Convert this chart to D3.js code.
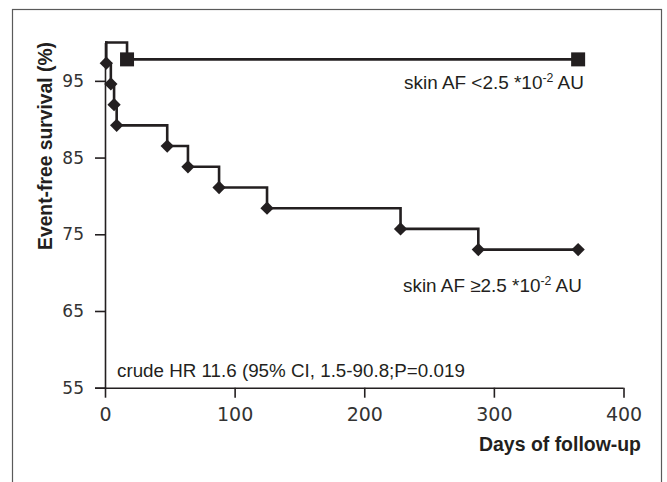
<!DOCTYPE html>
<html>
<head>
<meta charset="utf-8">
<script src="https://cdn.jsdelivr.net/npm/d3@7"></script>
<style>
  body { margin: 0; background: #fff; }
  svg { display: block; }
</style>
</head>
<body>
<script>
let W = 667;
let H = 482;

// low skin AF group (squares)
let lowDays = [0, 17, 365];
let lowSurv = [100, 97.8, 97.8];
// high skin AF group (diamonds)
let highDays = [0, 1, 4.5, 7, 9, 48, 64, 88, 125, 228, 288, 365];
let highSurv = [100, 97.3, 94.6, 91.9, 89.2, 86.5, 83.8, 81.1, 78.4, 75.7, 73.0, 73.0];

let xTicks = [0, 100, 200, 300, 400];
let yTicks = [55, 65, 75, 85, 95];

let ink = "#231f20";
let tickFont = "'DejaVu Sans', sans-serif";
let textFont = "'Liberation Sans', Arial, sans-serif";

let svg = d3.select("body")
  .append("svg")
  .attr("width", W)
  .attr("height", H);

// frame (open at the bottom, as in the cropped figure)
svg.append("rect")
  .attr("x", 12.5)
  .attr("y", 9.5)
  .attr("width", 649)
  .attr("height", 520)
  .attr("fill", "none")
  .attr("stroke", "#5a5a5a")
  .attr("stroke-width", 1.2);

let xScale = d3.scaleLinear().domain([0, 400]).range([105, 623.5]);
let yScale = d3.scaleLinear().domain([55, 100]).range([387.7, 42.5]);

// shrink/grow a text so it spans a given width
let fit = (sel, w) => {
  let l = sel.node().getComputedTextLength();
  let fs = parseFloat(sel.attr("font-size"));
  sel.attr("font-size", fs * w / l);
};

let xAxis = svg.append("g")
  .attr("transform", "translate(0," + yScale(55) + ")")
  .call(d3.axisBottom(xScale).tickValues(xTicks).tickSize(10).tickSizeOuter(0).tickPadding(10));
let yAxis = svg.append("g")
  .attr("transform", "translate(" + xScale(0) + ",0)")
  .call(d3.axisLeft(yScale).tickValues(yTicks).tickSize(10).tickSizeOuter(0).tickPadding(11));

xAxis.select(".domain").attr("d", "M" + (xScale(0) - 10) + ",0.5H" + xScale(400));
[xAxis, yAxis].forEach(a => {
  a.selectAll("path, line").attr("stroke", ink).attr("stroke-width", 1.6);
  a.selectAll("text").attr("fill", "#333").attr("font-family", tickFont);
});
xAxis.selectAll("text").attr("font-size", 19);
yAxis.selectAll("text").attr("font-size", 17);

let line = d3.line()
  .x(d => xScale(d[0]))
  .y(d => yScale(d[1]))
  .curve(d3.curveStepAfter);

let lowPts = lowDays.map((d, i) => [d, lowSurv[i]]);
let highPts = highDays.map((d, i) => [d, highSurv[i]]);

svg.append("path")
  .attr("d", line(highPts))
  .attr("fill", "none")
  .attr("stroke", ink)
  .attr("stroke-width", 2.6);
svg.append("path")
  .attr("d", line(lowPts))
  .attr("fill", "none")
  .attr("stroke", ink)
  .attr("stroke-width", 2.6);

// markers
svg.selectAll(".dia")
  .data(highPts.slice(1))
  .enter()
  .append("rect")
  .attr("class", "dia")
  .attr("x", -4.7)
  .attr("y", -4.7)
  .attr("width", 9.4)
  .attr("height", 9.4)
  .attr("fill", ink)
  .attr("transform", d => "translate(" + xScale(d[0]) + "," + yScale(d[1]) + ") rotate(45)");

svg.selectAll(".sq")
  .data(lowPts.slice(1))
  .enter()
  .append("rect")
  .attr("class", "sq")
  .attr("x", d => xScale(d[0]) - 7)
  .attr("y", d => yScale(d[1]) - 7)
  .attr("width", 14)
  .attr("height", 14)
  .attr("fill", ink);

// annotations
let label = (x, y, sign) => {
  let t = svg.append("text")
    .attr("x", x)
    .attr("y", y)
    .attr("font-family", textFont)
    .attr("font-size", 17)
    .attr("fill", ink);
  t.append("tspan").text("skin AF " + sign + "2.5 *10");
  t.append("tspan").text("-2").attr("font-size", "0.65em").attr("dy", "-0.55em");
  t.append("tspan").text(" AU").attr("dy", "0.36em");
  return t;
};
fit(label(404, 88.5, "<"), 180);
fit(label(403, 291.5, "\u2265"), 179);

let hr = svg.append("text")
  .attr("x", 117)
  .attr("y", 377)
  .attr("font-family", textFont)
  .attr("font-size", 17)
  .attr("fill", ink)
  .text("crude HR 11.6 (95% CI, 1.5-90.8;P=0.019");
fit(hr, 348);

let xl = svg.append("text")
  .attr("x", 641)
  .attr("y", 450.5)
  .attr("text-anchor", "end")
  .attr("font-family", textFont)
  .attr("font-weight", "bold")
  .attr("font-size", 18)
  .attr("fill", ink)
  .text("Days of follow-up");
fit(xl, 162);

let yl = svg.append("text")
  .attr("transform", "translate(51.5,146) rotate(-90)")
  .attr("text-anchor", "middle")
  .attr("font-family", textFont)
  .attr("font-weight", "bold")
  .attr("font-size", 18)
  .attr("fill", ink)
  .text("Event-free survival (%)");
fit(yl, 208);
</script>
</body>
</html>
